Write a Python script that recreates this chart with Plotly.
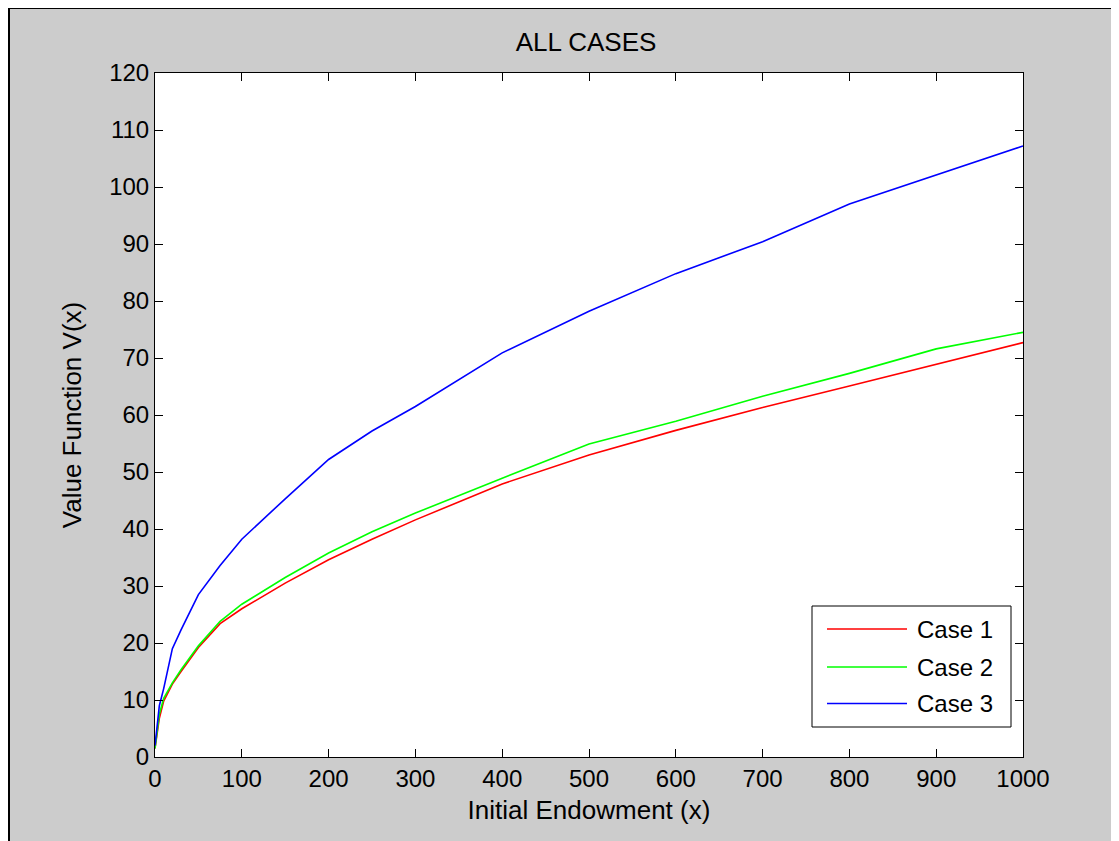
import plotly.graph_objects as go

# ---- data ----
endowment = [0, 5, 10, 20, 30, 50, 75, 100, 150, 200, 250, 300, 400, 500, 600, 700, 800, 900, 1000]
case1 = [1.5, 6.8, 9.8, 12.8, 15.0, 19.2, 23.4, 26.0, 30.5, 34.6, 38.2, 41.6, 47.9, 53.0, 57.3, 61.3, 65.1, 68.9, 72.7]
case2 = [1.5, 7.5, 10.3, 13.0, 15.3, 19.5, 23.8, 26.8, 31.5, 35.8, 39.5, 42.8, 48.9, 54.9, 58.9, 63.3, 67.3, 71.6, 74.5]
case3 = [2.0, 9.0, 12.0, 19.0, 22.3, 28.5, 33.6, 38.2, 45.3, 52.2, 57.2, 61.5, 70.9, 78.2, 84.8, 90.4, 97.0, 102.1, 107.2]
series_names = ["Case 1", "Case 2", "Case 3"]
series_colors = ["#ff0000", "#00ff00", "#0000ff"]
x_ticks = list(range(0, 1001, 100))
y_ticks = list(range(0, 121, 10))

W, H = 1119, 841
OFF = 8  # page body margin
# plot area in page pixels
L, R, T, B = 155, 1023, 73, 757
pw, ph = R - L, B - T

def px(x):
    return (x - L) / pw

def py(y):
    return (B - y) / ph

FONT = "Liberation Sans, Arial, sans-serif"
FS = 24
FS_T = 26

fig = go.Figure()
for name, vals, col in zip(series_names, [case1, case2, case3], series_colors):
    fig.add_trace(go.Scatter(x=endowment, y=vals, mode="lines", name=name,
                             line=dict(color=col, width=1.6), showlegend=False))

shapes = []
# black window frame at the figure's top-left edge
shapes.append(dict(type="rect", xref="paper", yref="paper", layer="below",
                   x0=px(OFF + 1), x1=px(W + 40), y0=py(H + 40), y1=py(OFF),
                   fillcolor="#cccccc", line=dict(color="black", width=2)))
# white axes area
shapes.append(dict(type="rect", xref="paper", yref="paper", layer="below",
                   x0=0, x1=1, y0=0, y1=1, fillcolor="white", line=dict(width=0)))
# legend box
shapes.append(dict(type="rect", xref="paper", yref="paper", layer="above",
                   x0=px(812), x1=px(1011), y0=py(727), y1=py(606),
                   fillcolor="white", line=dict(color="black", width=1)))
annotations = []
leg_y = [629, 667, 703.5]
for name, col, yy in zip(series_names, series_colors, leg_y):
    shapes.append(dict(type="line", xref="paper", yref="paper", layer="above",
                       x0=px(827), x1=px(907), y0=py(yy), y1=py(yy),
                       line=dict(color=col, width=1.6)))
    annotations.append(dict(xref="paper", yref="paper", x=px(915), y=py(yy),
                            text=name, showarrow=False, xanchor="left", yanchor="middle",
                            font=dict(family=FONT, size=FS, color="black")))

axis_common = dict(showline=True, linecolor="black", linewidth=1, mirror="ticks",
                   ticks="inside", ticklen=8, tickwidth=1, tickcolor="black",
                   showgrid=False, zeroline=False,
                   tickfont=dict(family=FONT, size=FS, color="black"))

fig.update_layout(
    width=W, height=H,
    margin=dict(l=L - OFF, r=W - (R - OFF), t=T - OFF, b=H - (B - OFF), autoexpand=False),
    paper_bgcolor="#cccccc", plot_bgcolor="white",
    title=dict(text="ALL CASES", x=px((L + R) / 2 - 3), xref="paper", xanchor="center",
               y=1 - (42 - OFF) / H, yref="container", yanchor="middle",
               font=dict(family=FONT, size=FS_T, color="black")),
    xaxis=dict(range=[0, 1000], tickvals=x_ticks, ticktext=[str(v) for v in x_ticks],
               title=dict(text="Initial Endowment (x)", font=dict(family=FONT, size=FS_T, color="black"),
                          standoff=10),
               **axis_common),
    yaxis=dict(range=[0, 120], tickvals=y_ticks, ticktext=[str(v) for v in y_ticks],
               title=dict(text="Value Function V(x)", font=dict(family=FONT, size=FS_T, color="black"),
                          standoff=20),
               **axis_common),
    shapes=shapes, annotations=annotations,
)

fig.write_html("out.html")
